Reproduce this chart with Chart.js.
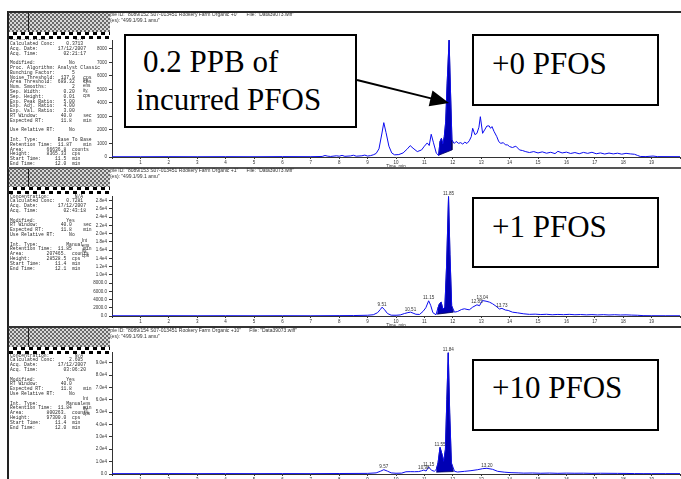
<!DOCTYPE html>
<html>
<head>
<meta charset="utf-8">
<title>PFOS 499.1/99.1 chromatograms</title>
<script src="https://cdn.jsdelivr.net/npm/chart.js@4.4.1/dist/chart.umd.min.js"></script>
<style>
  html, body { margin: 0; padding: 0; background: #fff; }
  body { position: relative; width: 681px; height: 479px; overflow: hidden; font-family: "Liberation Sans", Arial, sans-serif; }
  canvas { position: absolute; left: 0; }
  .rule { position: absolute; left: 8px; right: 0; height: 2px; background: #3a3a3a; }
  .frame { position: absolute; left: 7px; top: 11px; bottom: 0; width: 2px; background: #222; }
  .hdr { position: absolute; font-size: 5px; line-height: 5px; color: #333; white-space: pre; }
  .checker { position: absolute; left: 9px; width: 101px; }
  .dots { background-color: #6a6a6a; background-image: radial-gradient(circle, #d8d8d8 0.9px, transparent 1.3px), radial-gradient(circle, #d8d8d8 0.9px, transparent 1.3px); background-size: 4px 4px; background-position: 0 0, 2px 2px; }
  .dots::after { content: ""; position: absolute; left: 19px; top: 0; bottom: 0; width: 1px; background: #222; }
  .squares { background: repeating-conic-gradient(#000 0 25%, #fff 0 50%) 0 0 / 8px 7px; }
  .info { position: absolute; left: 10px; margin: 0; font: 4.7px/4.8px "Liberation Mono", "DejaVu Sans Mono", monospace; color: #2a2a2a; white-space: pre; }
  .ytitle { position: absolute; font-size: 4.6px; line-height: 5px; color: #333; }
  .box { position: absolute; box-sizing: border-box; border: 2px solid #000; background: #fff; }
  .note { position: absolute; font: 31px/31px "Liberation Serif", "Times New Roman", serif; color: #000; white-space: pre; }
  svg { position: absolute; left: 0; top: 0; }
</style>
</head>
<body>
<canvas id="c0" width="681" height="169" style="top:0px"></canvas>
<canvas id="c1" width="681" height="168" style="top:160px"></canvas>
<canvas id="c2" width="681" height="166" style="top:320px"></canvas>

<div class="frame"></div>
<div class="rule" style="top:11px;background:#2a2a2a"></div>
<div class="rule" style="top:167px;background:#555"></div>
<div class="rule" style="top:326px;background:#333"></div>

<div class="hdr" style="left:100px;top:12px">Sample ID: "8089/152 S07-013451 Rookery Farm Organic +0"      File: "Data39073.wiff"</div>
<div class="hdr" style="left:98px;top:17.5px">Mass(es): "499.1/99.1 amu"</div>
<div class="hdr" style="left:100px;top:168px">Sample ID: "8089/153 S07-013451 Rookery Farm Organic +1"      File: "Data39073.wiff"</div>
<div class="hdr" style="left:98px;top:173.5px">Mass(es): "499.1/99.1 amu"</div>
<div class="hdr" style="left:100px;top:328px">Sample ID: "8089/154 S07-013451 Rookery Farm Organic +10"      File: "Data39073.wiff"</div>
<div class="hdr" style="left:98px;top:333.5px">Mass(es): "499.1/99.1 amu"</div>

<pre class="info" id="info0" style="top:37.3px"></pre>
<pre class="info" id="info1" style="top:194.6px"></pre>
<pre class="info" id="info2" style="top:353.6px"></pre>

<div class="checker dots" style="top:13px;height:19px"></div>
<div class="checker squares" style="top:32px;height:7px"></div>
<div class="checker dots" style="top:169px;height:18px"></div>
<div class="checker squares" style="top:187px;height:7px"></div>
<div class="checker dots" style="top:328px;height:19px"></div>
<div class="checker squares" style="top:347px;height:7px"></div>

<div class="ytitle" style="left:83px;top:78px">Int<br>ens<br>ity,<br>cps</div>
<div class="ytitle" style="left:82px;top:238px">Int<br>ens<br>ity,<br>cps</div>
<div class="ytitle" style="left:83px;top:396px">Int<br>ens<br>ity,<br>cps</div>

<div class="box" style="left:124px;top:34px;width:233px;height:94px"></div>
<div class="note" style="left:143px;top:45.7px">0.2 PPB of</div>
<div class="note" style="left:136px;top:84px">incurred PFOS</div>

<div class="box" style="left:472px;top:34px;width:187px;height:72px"></div>
<div class="note" style="left:492px;top:48px">+0 PFOS</div>
<div class="box" style="left:472px;top:197px;width:187px;height:71px"></div>
<div class="note" style="left:492px;top:210.7px">+1 PFOS</div>
<div class="box" style="left:472px;top:359px;width:187px;height:72px"></div>
<div class="note" style="left:492px;top:372.3px">+10 PFOS</div>

<svg width="681" height="479">
  <line x1="357" y1="80" x2="432" y2="98.6" stroke="#000" stroke-width="2"/>
  <polygon points="449,103 428.7,106.2 432.5,90.6" fill="#000"/>
</svg>

<script>
// XIC 499.1/99.1, sample +0 (spike level 0)
const time0 = [0, 1, 2, 3, 4, 5, 6, 7, 7.4, 7.5,
  7.6, 7.7, 7.9, 8.0, 8.1, 8.2, 8.4, 8.5, 8.6, 8.8,
  8.9, 9.0, 9.1, 9.2, 9.3, 9.4, 9.5, 9.57, 9.65, 9.75,
  9.85, 9.95, 10.1, 10.25, 10.4, 10.5, 10.6, 10.75, 10.9, 11.0,
  11.1, 11.17, 11.24, 11.32, 11.42, 11.5, 11.55, 11.6, 11.65, 11.7,
  11.75, 11.8, 11.87, 11.92, 11.97, 12.05, 12.12, 12.2, 12.28, 12.35,
  12.42, 12.5, 12.58, 12.65, 12.7, 12.78, 12.85, 12.92, 12.97, 13.05,
  13.12, 13.2, 13.28, 13.33, 13.38, 13.45, 13.55, 13.62, 13.69, 13.78,
  13.85, 13.93, 14.0, 14.1, 14.22, 14.35, 14.45, 14.57, 14.7, 14.85,
  15.0, 15.15, 15.3, 15.45, 15.6, 15.7, 15.85, 16.0, 16.15, 16.3,
  16.45, 16.6, 16.75, 16.9, 17.05, 17.2, 17.35, 17.5, 17.65, 17.8,
  17.95, 18.1, 18.25, 18.4, 18.5, 18.6, 18.8, 19.05, 19.2, 20];
const counts0 = [20, 20, 25, 20, 25, 20, 30, 25, 40, 110,
  60, 40, 90, 60, 120, 50, 80, 130, 60, 90,
  140, 70, 100, 160, 260, 600, 1700, 2540, 1800, 800,
  300, 160, 180, 300, 600, 840, 650, 400, 520, 800,
  1040, 850, 1680, 1050, 280, 120, 1150, 1380, 950, 1500,
  2600, 5400, 8640, 4800, 1250, 1000, 1150, 1010, 1060, 950,
  1100, 1000, 1200, 1500, 2120, 1650, 1750, 2200, 2980, 1750,
  2000, 2290, 2300, 2120, 2250, 1900, 1500, 1130, 1010, 1060,
  900, 890, 770, 700, 800, 520, 480, 395, 330, 400,
  300, 380, 280, 350, 250, 420, 300, 360, 260, 330,
  240, 340, 270, 350, 240, 300, 220, 290, 230, 280,
  210, 270, 230, 200, 120, 40, 30, 70, 30, 25];
const areaSpan0 = [11.5, 11.97];
const areaBase0 = [130, 520];
const peakRT0 = [];
const yTicks0 = [0, 1000, 2000, 3000, 4000, 5000, 6000, 7000, 8000];

// sample +1
const time1 = [0, 1, 2, 3, 4, 5, 6, 7, 8, 8.5,
  9.0, 9.2, 9.35, 9.45, 9.51, 9.6, 9.7, 9.83, 10.0, 10.15,
  10.3, 10.42, 10.51, 10.6, 10.7, 10.83, 10.95, 11.05, 11.15, 11.22,
  11.3, 11.41, 11.47, 11.53, 11.59, 11.65, 11.72, 11.78, 11.85, 11.9,
  11.96, 12.06, 12.17, 12.31, 12.41, 12.5, 12.58, 12.7, 12.85, 12.94,
  13.04, 13.17, 13.29, 13.4, 13.52, 13.64, 13.73, 13.85, 13.95, 14.1,
  14.28, 14.5, 14.7, 14.9, 15.1, 15.3, 15.5, 15.7, 15.9, 16.1,
  16.3, 16.5, 16.7, 16.9, 17.1, 17.3, 17.5, 17.7, 17.9, 18.1,
  18.3, 18.5, 18.7, 19.0, 19.5, 20];
const counts1 = [60, 60, 70, 60, 70, 60, 70, 60, 90, 110,
  180, 300, 800, 1600, 2150, 1500, 600, 200, 180, 260,
  600, 820, 930, 700, 420, 380, 1100, 2000, 3700, 2600,
  800, 300, 1800, 2970, 3370, 1700, 2100, 12000, 29000, 15000,
  2500, 930, 1100, 1590, 1750, 1600, 1500, 2150, 2720, 2500,
  3750, 3600, 3370, 2970, 2400, 1700, 1850, 1450, 1350, 930,
  770, 530, 400, 450, 350, 420, 300, 380, 320, 400,
  300, 360, 280, 340, 260, 330, 250, 310, 240, 280,
  220, 180, 90, 70, 60, 60];
const areaSpan1 = [11.45, 12.02];
const areaBase1 = [450, 930];
const peakRT1 = [9.51, 10.51, 11.15, 11.85, 12.85, 13.04, 13.73];
const yTicks1 = [0, 2000, 4000, 6000, 8000, 10000, 12000, 14000, 16000,
  18000, 20000, 22000, 24000, 26000, 28000];

// sample +10
const time2 = [0, 1, 2, 3, 4, 5, 6, 7, 8, 9.0,
  9.3, 9.45, 9.57, 9.7, 9.83, 10.0, 10.2, 10.35, 10.5, 10.65,
  10.8, 10.9, 10.98, 11.06, 11.15, 11.25, 11.35, 11.42, 11.48, 11.55,
  11.62, 11.68, 11.74, 11.79, 11.84, 11.89, 11.95, 12.06, 12.17, 12.41,
  12.64, 12.88, 13.05, 13.2, 13.4, 13.58, 13.81, 14.05, 14.3, 14.5,
  14.8, 15.1, 15.4, 15.7, 16.0, 16.3, 16.6, 16.9, 17.2, 17.5,
  17.8, 18.1, 18.4, 18.7, 19.0, 19.5, 20];
const counts2 = [300, 300, 350, 300, 350, 300, 350, 300, 400, 500,
  900, 2200, 3490, 2300, 900, 600, 700, 1800, 1900, 1850,
  1950, 2600, 3200, 2400, 5600, 3000, 2200, 3800, 9000, 21500,
  16000, 10200, 20000, 60000, 98000, 50000, 9000, 2150, 1600, 2150,
  2690, 3490, 4300, 4600, 3800, 2150, 1500, 1070, 900, 700,
  800, 600, 750, 550, 700, 600, 650, 500, 600, 550,
  500, 450, 350, 300, 300, 300, 300];
const areaSpan2 = [11.42, 12.02];
const areaBase2 = [1500, 2000];
const peakRT2 = [9.57, 10.98, 11.15, 11.55, 11.84, 13.20];
const yTicks2 = [0, 10000, 20000, 30000, 40000, 50000, 60000, 70000, 80000, 90000];

// Results table printed beside each trace
const info0 = [
  'Concentration:         N/A',
  'Calculated Conc:    0.3713',
  'Acq. Date:       17/12/2007',
  'Acq. Time:         02:21:17',
  '',
  'Modified:            No',
  'Proc. Algorithm: Analyst Classic',
  'Bunching Factor:      5',
  'Noise Threshold:  137.9   cps',
  'Area Threshold:  689.32   cps',
  'Num. Smooths:         2',
  'Sep. Width:        0.20',
  'Sep. Height:       0.01',
  'Exp. Peak Ratio:   5.00',
  'Exp. Adj. Ratio:   4.00',
  'Exp. Val. Ratio:   3.00',
  'RT Window:        40.0    sec',
  'Expected RT:      11.8    min',
  '',
  'Use Relative RT:     No',
  '',
  'Int. Type:       Base To Base',
  'Retention Time:  11.87    min',
  'Area:        66636.8  counts',
  'Height:      8365.33  cps',
  'Start Time:     11.5  min',
  'End Time:       12.0  min'
];
const info1 = [
  'Concentration:         N/A',
  'Calculated Conc:    0.7281',
  'Acq. Date:       17/12/2007',
  'Acq. Time:         02:43:18',
  '',
  'Modified:           Yes',
  'RT Window:        40.0    sec',
  'Expected RT:      11.8    min',
  'Use Relative RT:     No',
  '',
  'Int. Type:          Manual',
  'Retention Time:  11.85    min',
  'Area:        207465.  counts',
  'Height:      28528.5  cps',
  'Start Time:     11.4  min',
  'End Time:       12.1  min'
];
const info2 = [
  'Concentration:         N/A',
  'Calculated Conc:     2.605',
  'Acq. Date:       17/12/2007',
  'Acq. Time:         03:06:20',
  '',
  'Modified:           Yes',
  'RT Window:        40.0',
  'Expected RT:      11.8    min',
  'Use Relative RT:     No',
  '',
  'Int. Type:          Manual',
  'Retention Time:  11.84    min',
  'Area:        800263.  counts',
  'Height:      97300.0  cps',
  'Start Time:     11.4  min',
  'End Time:       12.0  min'
];

document.getElementById('info0').textContent = info0.join('\n');
document.getElementById('info1').textContent = info1.join('\n');
document.getElementById('info2').textContent = info2.join('\n');

const FONT = '"Liberation Sans", Arial, sans-serif';

// retention time printed over each labelled peak
const peakLabels = {
  id: 'peakLabels',
  afterDatasetsDraw(chart, args, opts) {
    const { ctx, scales: { x, y } } = chart;
    const trace = chart.data.datasets[0].data;
    ctx.save();
    ctx.font = '4.6px ' + FONT;
    ctx.fillStyle = '#333';
    ctx.textAlign = 'center';
    ctx.textBaseline = 'bottom';
    (opts.times || []).forEach(t => {
      const p = trace.find(d => d.x === t);
      if (!p) return;
      ctx.fillText(t.toFixed(2), x.getPixelForValue(t), y.getPixelForValue(p.y) - 0.5);
    });
    ctx.restore();
  }
};

function toPoints(time, counts) {
  return time.map((t, i) => ({ x: t, y: counts[i] }));
}

// integrated peak: trace between start/end, closed along the drawn baseline
function areaShape(time, counts, span, base) {
  const pts = [];
  time.forEach((t, i) => {
    if (t >= span[0] && t <= span[1]) pts.push({ x: t, y: counts[i] });
  });
  pts.push({ x: span[1], y: base[1] }, { x: span[0], y: base[0] });
  return pts;
}

const sciFmt = v => v === 0 ? '0.0' : v < 1e4 ? v.toFixed(1) : v.toExponential(1).replace('e+', 'e');

function drawXic(id, cfg) {
  new Chart(document.getElementById(id), {
    type: 'line',
    data: {
      datasets: [{
        data: toPoints(cfg.time, cfg.counts),
        borderColor: '#0c0cf0',
        borderWidth: 1,
        pointRadius: 0,
        tension: 0,
        fill: false
      }, {
        data: areaShape(cfg.time, cfg.counts, cfg.span, cfg.base),
        borderColor: '#00005a',
        borderWidth: 0.8,
        backgroundColor: '#0000b4',
        pointRadius: 0,
        tension: 0,
        fill: 'shape'
      }]
    },
    options: {
      responsive: false,
      animation: false,
      devicePixelRatio: 1,
      layout: { padding: { top: cfg.padTop, right: 0, bottom: 0, left: 0 } },
      plugins: {
        legend: { display: false },
        tooltip: { enabled: false },
        peakLabels: { times: cfg.peaks }
      },
      scales: {
        x: {
          type: 'linear',
          min: 0,
          max: 20,
          afterFit: s => { s.height = 12; },
          ticks: {
            stepSize: 1,
            autoSkip: false,
            maxRotation: 0,
            padding: 1,
            color: '#333',
            font: { size: 4.5, family: FONT },
            callback: v => (v > 0 && v < 20) ? String(v) : ''
          },
          grid: { drawOnChartArea: false, tickLength: 2, color: '#333' },
          border: { color: '#333', width: 1 },
          title: { display: true, text: 'Time, min', color: '#333', padding: 0, font: { size: 4.5, family: FONT } }
        },
        y: {
          min: 0,
          max: cfg.yMax,
          afterFit: s => { s.width = 112; },
          afterBuildTicks: s => { s.ticks = cfg.yTicks.map(v => ({ value: v })); },
          ticks: {
            autoSkip: false,
            padding: 2,
            color: '#333',
            font: { size: 4.5, family: FONT },
            callback: cfg.fmt
          },
          grid: { drawOnChartArea: false, tickLength: 3, color: '#333' },
          border: { color: '#333', width: 1 }
        }
      }
    },
    plugins: [peakLabels]
  });
}

drawXic('c0', { time: time0, counts: counts0, span: areaSpan0, base: areaBase0, peaks: peakRT0,
  padTop: 40, yMax: 8650, yTicks: yTicks0, fmt: v => String(v) });
drawXic('c1', { time: time1, counts: counts1, span: areaSpan1, base: areaBase1, peaks: peakRT1,
  padTop: 36, yMax: 29150, yTicks: yTicks1, fmt: sciFmt });
drawXic('c2', { time: time2, counts: counts2, span: areaSpan2, base: areaBase2, peaks: peakRT2,
  padTop: 32, yMax: 98600, yTicks: yTicks2, fmt: sciFmt });
</script>
</body>
</html>
